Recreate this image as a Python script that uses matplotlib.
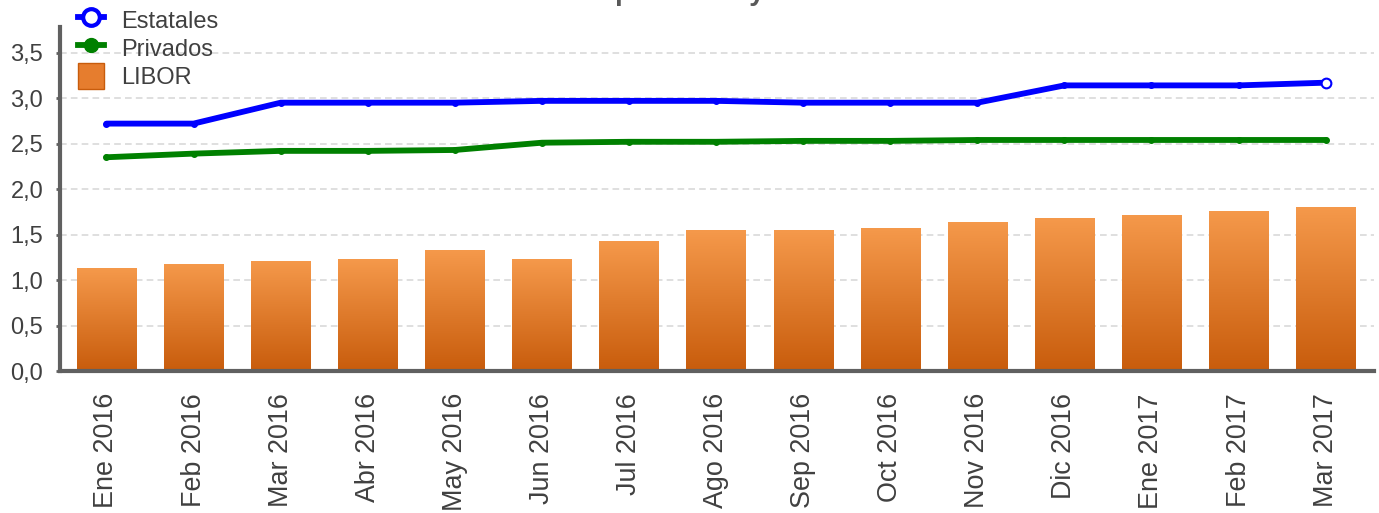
import numpy as np
import matplotlib
matplotlib.use('Agg')
import matplotlib.pyplot as plt
from matplotlib.lines import Line2D
from matplotlib.patches import Patch
from matplotlib.colors import LinearSegmentedColormap
from matplotlib.ticker import FuncFormatter

plt.rcParams['font.family'] = ['Liberation Sans', 'DejaVu Sans']

meses = ['Ene 2016', 'Feb 2016', 'Mar 2016', 'Abr 2016', 'May 2016', 'Jun 2016',
         'Jul 2016', 'Ago 2016', 'Sep 2016', 'Oct 2016', 'Nov 2016', 'Dic 2016',
         'Ene 2017', 'Feb 2017', 'Mar 2017']
libor = [1.13, 1.18, 1.21, 1.23, 1.33, 1.23, 1.43, 1.55, 1.55, 1.57, 1.64, 1.68, 1.72, 1.76, 1.80]
estatales = [2.72, 2.72, 2.95, 2.95, 2.95, 2.97, 2.97, 2.97, 2.95, 2.95, 2.95, 3.14, 3.14, 3.14, 3.17]
privados = [2.35, 2.39, 2.42, 2.42, 2.43, 2.51, 2.52, 2.52, 2.53, 2.53, 2.54, 2.54, 2.54, 2.54, 2.54]
y_ticks = [0.0, 0.5, 1.0, 1.5, 2.0, 2.5, 3.0, 3.5]

TXT = '#404040'
SPINE = '#606060'

fig = plt.figure(figsize=(13.79, 5.13), dpi=100)
ax = fig.add_axes([0.0435, 0.2768, 0.953, 0.6702])

x = np.arange(len(meses))

# bars with vertical orange gradient
bars = ax.bar(x, libor, width=0.68, color='none', edgecolor='none', zorder=2)
cmap = LinearSegmentedColormap.from_list('naranja', ['#c85c0c', '#f5994b'])
grad = np.linspace(0, 1, 256).reshape(-1, 1)
for b in bars:
    x0, y0 = b.get_x(), b.get_y()
    im = ax.imshow(grad, cmap=cmap, origin='lower', aspect='auto',
                   extent=[x0, x0 + b.get_width(), y0, y0 + b.get_height()], zorder=2)
    im.set_clip_path(b)

ax.plot(x, privados, color='#008000', lw=4.2, marker='o', ms=4, zorder=4,
        solid_capstyle='round')
ax.plot(x, estatales, color='#0000ff', lw=4.2, marker='o', ms=4, zorder=5,
        solid_capstyle='round')
ax.plot(x[-1], estatales[-1], marker='o', ms=7, mfc='white', mec='#0000ff', mew=1.5,
        ls='none', zorder=6)

ax.set_xlim(-0.534, len(meses) - 1 + 0.557)
ax.set_ylim(0, 3.78)
ax.set_yticks(y_ticks)
ax.yaxis.set_major_formatter(FuncFormatter(lambda v, p: f'{v:.1f}'.replace('.', ',')))
ax.set_xticks(x)
ax.set_xticklabels(meses, rotation=90)

ax.grid(axis='y', color='#d9d9d9', ls=(0, (4, 2.5)), lw=1.2, zorder=0)
ax.set_axisbelow(True)

for s in ['top', 'right']:
    ax.spines[s].set_visible(False)
for s in ['left', 'bottom']:
    ax.spines[s].set_color(SPINE)
    ax.spines[s].set_linewidth(3)
    ax.spines[s].set_zorder(7)

ax.tick_params(axis='y', length=3, width=2, color=SPINE, labelsize=17, labelcolor=TXT, pad=9)
ax.tick_params(axis='x', length=0, labelsize=19.4, labelcolor=TXT, pad=16)

handles = [
    Line2D([], [], color='#0000ff', lw=4.2, marker='o', ms=12, mfc='white', mew=3),
    Line2D([], [], color='#008000', lw=4.2, marker='o', ms=10),
    Patch(facecolor='#e67d2e', edgecolor='#c85c0c'),
]
fig.legend(handles, ['Estatales', 'Privados', 'LIBOR'], loc='upper left',
           bbox_to_anchor=(0.041, 1.028), frameon=False, fontsize=17, labelcolor=TXT,
           handlelength=1.1, handleheight=1.3, handletextpad=0.75, labelspacing=0.1)

fig.text(392 / 1379, 1.0, 'Tasas de interés promedio y LIBOR', ha='left',
         va='baseline', fontsize=20, fontweight='bold', color='#595959')

fig.savefig('out.png', dpi=100)
